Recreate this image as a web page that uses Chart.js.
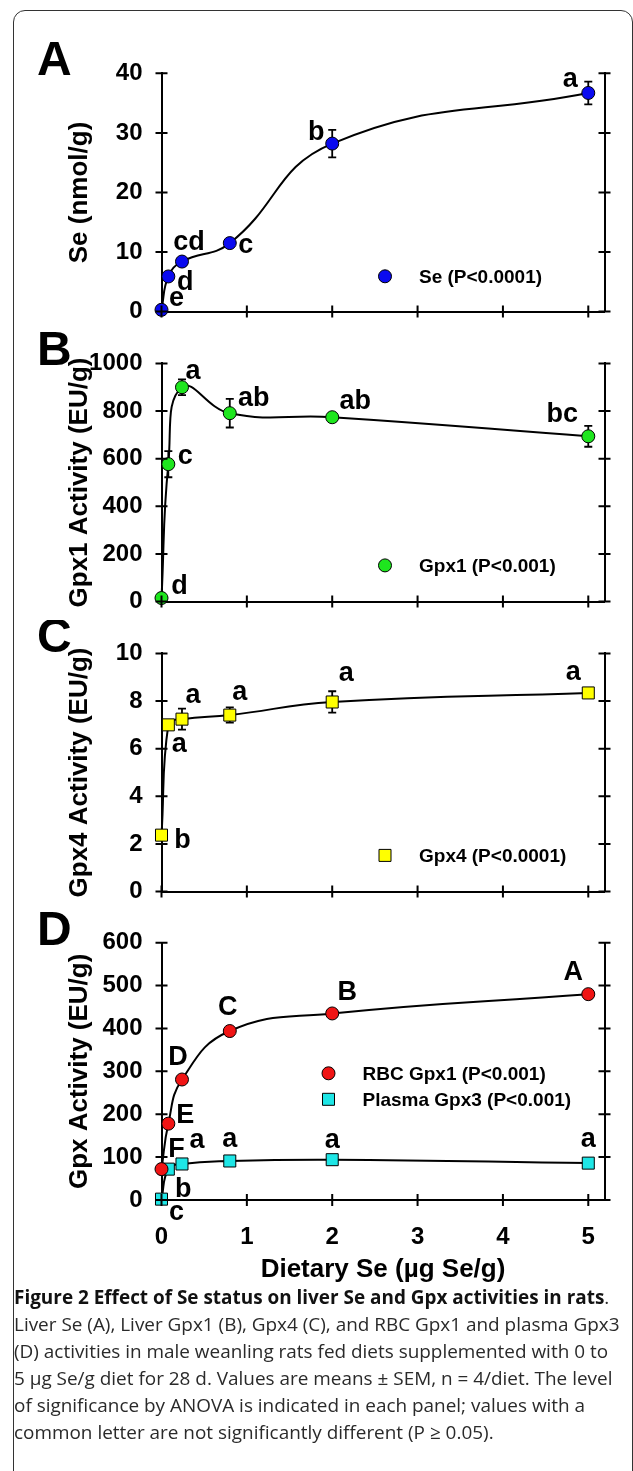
<!DOCTYPE html>
<html>
<head>
<meta charset="utf-8">
<script src="https://cdn.jsdelivr.net/npm/chart.js@4.4.1/dist/chart.umd.min.js"></script>
<style>
  html, body { margin: 0; padding: 0; background: #fff; }
  body { width: 633px; height: 1471px; position: relative; overflow: hidden; }
  #frame { position: absolute; left: 13px; top: 10px; width: 620px; height: 1500px;
           border: 1.5px solid #333; border-radius: 12px; box-sizing: border-box; }
  canvas { position: absolute; left: 0; }
  #caption { position: absolute; left: 14px; top: 1284px; font-family: 'Open Sans', sans-serif;
             font-size: 17px; line-height: 27px; color: #2a2a2a; white-space: nowrap; }
  #caption b { color: #111; }
</style>
</head>
<body>
<div id="frame"></div>
<canvas id="panelA" width="633" height="345" style="top:0px"></canvas>
<canvas id="panelB" width="633" height="305" style="top:330px"></canvas>
<canvas id="panelC" width="633" height="305" style="top:620px"></canvas>
<canvas id="panelD" width="633" height="390" style="top:900px"></canvas>
<div id="caption"><b>Figure 2 Effect of Se status on liver Se and Gpx activities in rats</b>.<br>Liver Se (A), Liver Gpx1 (B), Gpx4 (C), and RBC Gpx1 and plasma Gpx3<br>(D) activities in male weanling rats fed diets supplemented with 0 to<br>5 µg Se/g diet for 28 d. Values are means ± SEM, n = 4/diet. The level<br>of significance by ANOVA is indicated in each panel; values with a<br>common letter are not significantly different (P ≥ 0.05).</div>
<script>
// dietary Se, µg Se/g
const dose = [0, 0.08, 0.24, 0.8, 2, 5];
const xTicks = [0, 1, 2, 3, 4, 5];

// A: liver Se (nmol/g)
const liverSe = [0.3, 5.9, 8.4, 11.5, 28.2, 36.7];
const liverSeSem = [0.2, 0.4, 0.5, 0.6, 2.3, 1.9];
const liverSeLetters = ['e', 'd', 'cd', 'c', 'b', 'a'];
const seTicks = [0, 10, 20, 30, 40];

// B: liver Gpx1 (EU/g)
const liverGpx1 = [15, 577, 900, 791, 774, 694];
const liverGpx1Sem = [4, 55, 33, 60, 18, 44];
const liverGpx1Letters = ['d', 'c', 'a', 'ab', 'ab', 'bc'];
const gpx1Ticks = [0, 200, 400, 600, 800, 1000];

// C: liver Gpx4 (EU/g)
const liverGpx4 = [2.37, 7.0, 7.24, 7.41, 7.96, 8.34];
const liverGpx4Sem = [0.1, 0.1, 0.44, 0.32, 0.45, 0.1];
const liverGpx4Letters = ['b', 'a', 'a', 'a', 'a', 'a'];
const gpx4Ticks = [0, 2, 4, 6, 8, 10];

// D: RBC Gpx1 and plasma Gpx3 (EU/g)
const rbcGpx1 = [72, 178, 281, 394, 435, 480];
const rbcGpx1Sem = [5, 6, 8, 8, 7, 9];
const rbcGpx1Letters = ['F', 'E', 'D', 'C', 'B', 'A'];
const plasmaGpx3 = [2, 72, 84, 91, 94, 86];
const plasmaGpx3Sem = [1, 4, 3, 4, 3, 3];
const plasmaGpx3Letters = ['c', 'b', 'a', 'a', 'a', 'a'];
const gpxTicks = [0, 100, 200, 300, 400, 500, 600];

Chart.defaults.font.family = "'Liberation Sans', Arial, sans-serif";
Chart.defaults.color = '#000';

const FONT = "'Liberation Sans', Arial, sans-serif";

// error bars, significance letters, legend, crossing ticks and panel letter
const panelDecor = {
  id: 'panelDecor',
  beforeDatasetsDraw(chart) {
    const ctx = chart.ctx, xs = chart.scales.x, ys = chart.scales.y;
    ctx.save();
    ctx.strokeStyle = '#000';
    ctx.lineWidth = 1.8;
    chart.data.datasets.forEach(ds => {
      ds.data.forEach((p, i) => {
        const e = ds.sem[i];
        const x = xs.getPixelForValue(p.x);
        const y1 = ys.getPixelForValue(p.y + e), y2 = ys.getPixelForValue(p.y - e);
        ctx.beginPath();
        ctx.moveTo(x, y1); ctx.lineTo(x, y2);
        ctx.moveTo(x - 4, y1); ctx.lineTo(x + 4, y1);
        ctx.moveTo(x - 4, y2); ctx.lineTo(x + 4, y2);
        ctx.stroke();
      });
    });
    ctx.restore();
  },
  afterDatasetsDraw(chart, args, opts) {
    const ctx = chart.ctx, xs = chart.scales.x, ys = chart.scales.y;
    const area = chart.chartArea;
    ctx.save();
    ctx.fillStyle = '#000';
    ctx.textAlign = 'center';
    ctx.textBaseline = 'alphabetic';
    ctx.font = 'bold 27px ' + FONT;
    chart.data.datasets.forEach(ds => {
      ds.data.forEach((p, i) => {
        const off = ds.letterOffsets[i];
        ctx.fillText(ds.letters[i], xs.getPixelForValue(p.x) + off[0], ys.getPixelForValue(p.y) + off[1]);
      });
    });
    // legend
    ctx.font = 'bold 19px ' + FONT;
    ctx.textAlign = 'left';
    chart.data.datasets.forEach((ds, i) => {
      const lx = area.left + opts.legend[0], ly = area.top + opts.legend[1] + i * 26;
      ctx.beginPath();
      if (ds.pointStyle === 'rect') ctx.rect(lx - 6, ly - 6, 12, 12);
      else ctx.arc(lx, ly, 6.5, 0, Math.PI * 2);
      ctx.fillStyle = ds.pointBackgroundColor;
      ctx.fill();
      ctx.lineWidth = 1;
      ctx.strokeStyle = '#000';
      ctx.stroke();
      ctx.fillStyle = '#000';
      ctx.fillText(ds.label, lx + 34, ly + 7);
    });
    ctx.restore();
  },
  afterDraw(chart, args, opts) {
    const ctx = chart.ctx, xs = chart.scales.x, ys = chart.scales.y;
    const area = chart.chartArea;
    ctx.save();
    ctx.strokeStyle = '#000';
    ctx.lineWidth = 2;
    ctx.beginPath();
    ys.ticks.forEach(t => {
      const y = ys.getPixelForValue(t.value);
      ctx.moveTo(area.left - 6, y); ctx.lineTo(area.left + 6, y);
      ctx.moveTo(area.right - 6, y); ctx.lineTo(area.right + 6, y);
    });
    xs.ticks.forEach(t => {
      const x = xs.getPixelForValue(t.value);
      ctx.moveTo(x, area.bottom - 6); ctx.lineTo(x, area.bottom + 6);
    });
    ctx.stroke();
    ctx.fillStyle = '#000';
    ctx.textAlign = 'left';
    ctx.font = 'bold 48px ' + FONT;
    ctx.fillText(opts.letter, opts.letterPos[0], opts.letterPos[1]);
    ctx.restore();
  }
};

function series(label, values, sem, letters, offsets, style, color) {
  return {
    label: label,
    data: dose.map((d, i) => ({ x: d, y: values[i] })),
    sem: sem,
    letters: letters,
    letterOffsets: offsets,
    borderColor: '#000',
    borderWidth: 2,
    tension: 0.45,
    pointStyle: style,
    pointRadius: style === 'rect' ? 8.5 : 6.5,
    pointBackgroundColor: color,
    pointBorderColor: '#000',
    pointBorderWidth: 1,
    clip: false
  };
}

function panel(id, cfg) {
  const showX = !!cfg.xTitle;
  new Chart(document.getElementById(id), {
    type: 'line',
    data: { datasets: cfg.datasets },
    plugins: [panelDecor],
    options: {
      responsive: false,
      animation: false,
      devicePixelRatio: 1,
      layout: { padding: { top: cfg.padTop, bottom: cfg.padBottom, left: 0, right: 0 } },
      plugins: {
        legend: { display: false },
        tooltip: { enabled: false },
        panelDecor: { letter: cfg.letter, letterPos: cfg.letterPos, legend: cfg.legend }
      },
      scales: {
        x: {
          type: 'linear', min: 0, max: 5.19,
          afterBuildTicks: s => { s.ticks = xTicks.map(v => ({ value: v })); },
          ticks: { display: showX, font: { size: 24, weight: 'bold' }, padding: 23, callback: v => String(v) },
          grid: { display: false, drawTicks: false },
          border: { display: true, width: 2, color: '#000' },
          title: { display: showX, text: cfg.xTitle || '', font: { size: 26, weight: 'bold' }, padding: { top: 0, bottom: 0 } },
          afterFit: s => { s.height = showX ? 85 : 0; }
        },
        y: {
          type: 'linear', position: 'left', min: 0, max: cfg.yTicks[cfg.yTicks.length - 1],
          afterBuildTicks: s => { s.ticks = cfg.yTicks.map(v => ({ value: v })); },
          ticks: { font: { size: 24, weight: 'bold' }, padding: 19, callback: v => String(v) },
          grid: { display: false, drawTicks: false },
          border: { display: true, width: 2, color: '#000' },
          title: { display: true, text: cfg.yTitle, font: { size: 26, weight: 'bold' }, padding: { top: 64, bottom: 0 } },
          afterFit: s => { s.width = 161.5; }
        },
        y2: {
          type: 'linear', position: 'right', min: 0, max: cfg.yTicks[cfg.yTicks.length - 1],
          ticks: { display: false },
          grid: { display: false, drawTicks: false },
          border: { display: true, width: 2, color: '#000' },
          afterFit: s => { s.width = 28.5; }
        }
      }
    }
  });
}

panel('panelA', {
  padTop: 73.3, padBottom: 14, letter: 'A', letterPos: [37, 75], legend: [223.5, 203],
  yTitle: 'Se (nmol/g)', yTicks: seTicks,
  datasets: [series('Se (P<0.0001)', liverSe, liverSeSem, liverSeLetters,
    [[15, -4], [17, 14], [7, -12], [16, 10], [-16, -4], [-18, -6]], 'circle', '#0a0af0')]
});

panel('panelB', {
  padTop: 32.7, padBottom: 14.3, letter: 'B', letterPos: [37, 35], legend: [223.5, 202],
  yTitle: 'Gpx1 Activity (EU/g)', yTicks: gpx1Ticks,
  datasets: [series('Gpx1 (P<0.001)', liverGpx1, liverGpx1Sem, liverGpx1Letters,
    [[18, -4], [17, 0], [11, -8], [24, -7], [23, -8], [-26, -14]], 'circle', '#1ee61e')]
});

panel('panelC', {
  padTop: 33.3, padBottom: 14, letter: 'C', letterPos: [37, 32], legend: [223.5, 202],
  yTitle: 'Gpx4 Activity (EU/g)', yTicks: gpx4Ticks,
  datasets: [series('Gpx4 (P<0.0001)', liverGpx4, liverGpx4Sem, liverGpx4Letters,
    [[21, 13], [11, 27], [11, -16], [10, -15], [14, -21], [-15, -13]], 'rect', '#ffff00')]
});

panel('panelD', {
  padTop: 42.7, padBottom: 5, letter: 'D', letterPos: [37, 45], legend: [167, 130.6],
  yTitle: 'Gpx Activity (EU/g)', yTicks: gpxTicks, xTitle: 'Dietary Se (µg Se/g)',
  datasets: [
    series('RBC Gpx1 (P<0.001)', rbcGpx1, rbcGpx1Sem, rbcGpx1Letters,
      [[15, -12], [17, -1], [-4, -14], [-2, -16], [15, -13], [-15, -14]], 'circle', '#f01414'),
    series('Plasma Gpx3 (P<0.001)', plasmaGpx3, plasmaGpx3Sem, plasmaGpx3Letters,
      [[15, 21], [15, 28], [15, -16], [0, -14], [0, -12], [0, -16]], 'rect', '#1ee6e6')
  ]
});

// fit the caption to the frame width
const cap = document.getElementById('caption');
cap.style.fontSize = (17 * 606 / cap.scrollWidth) + 'px';
</script>
</body>
</html>
